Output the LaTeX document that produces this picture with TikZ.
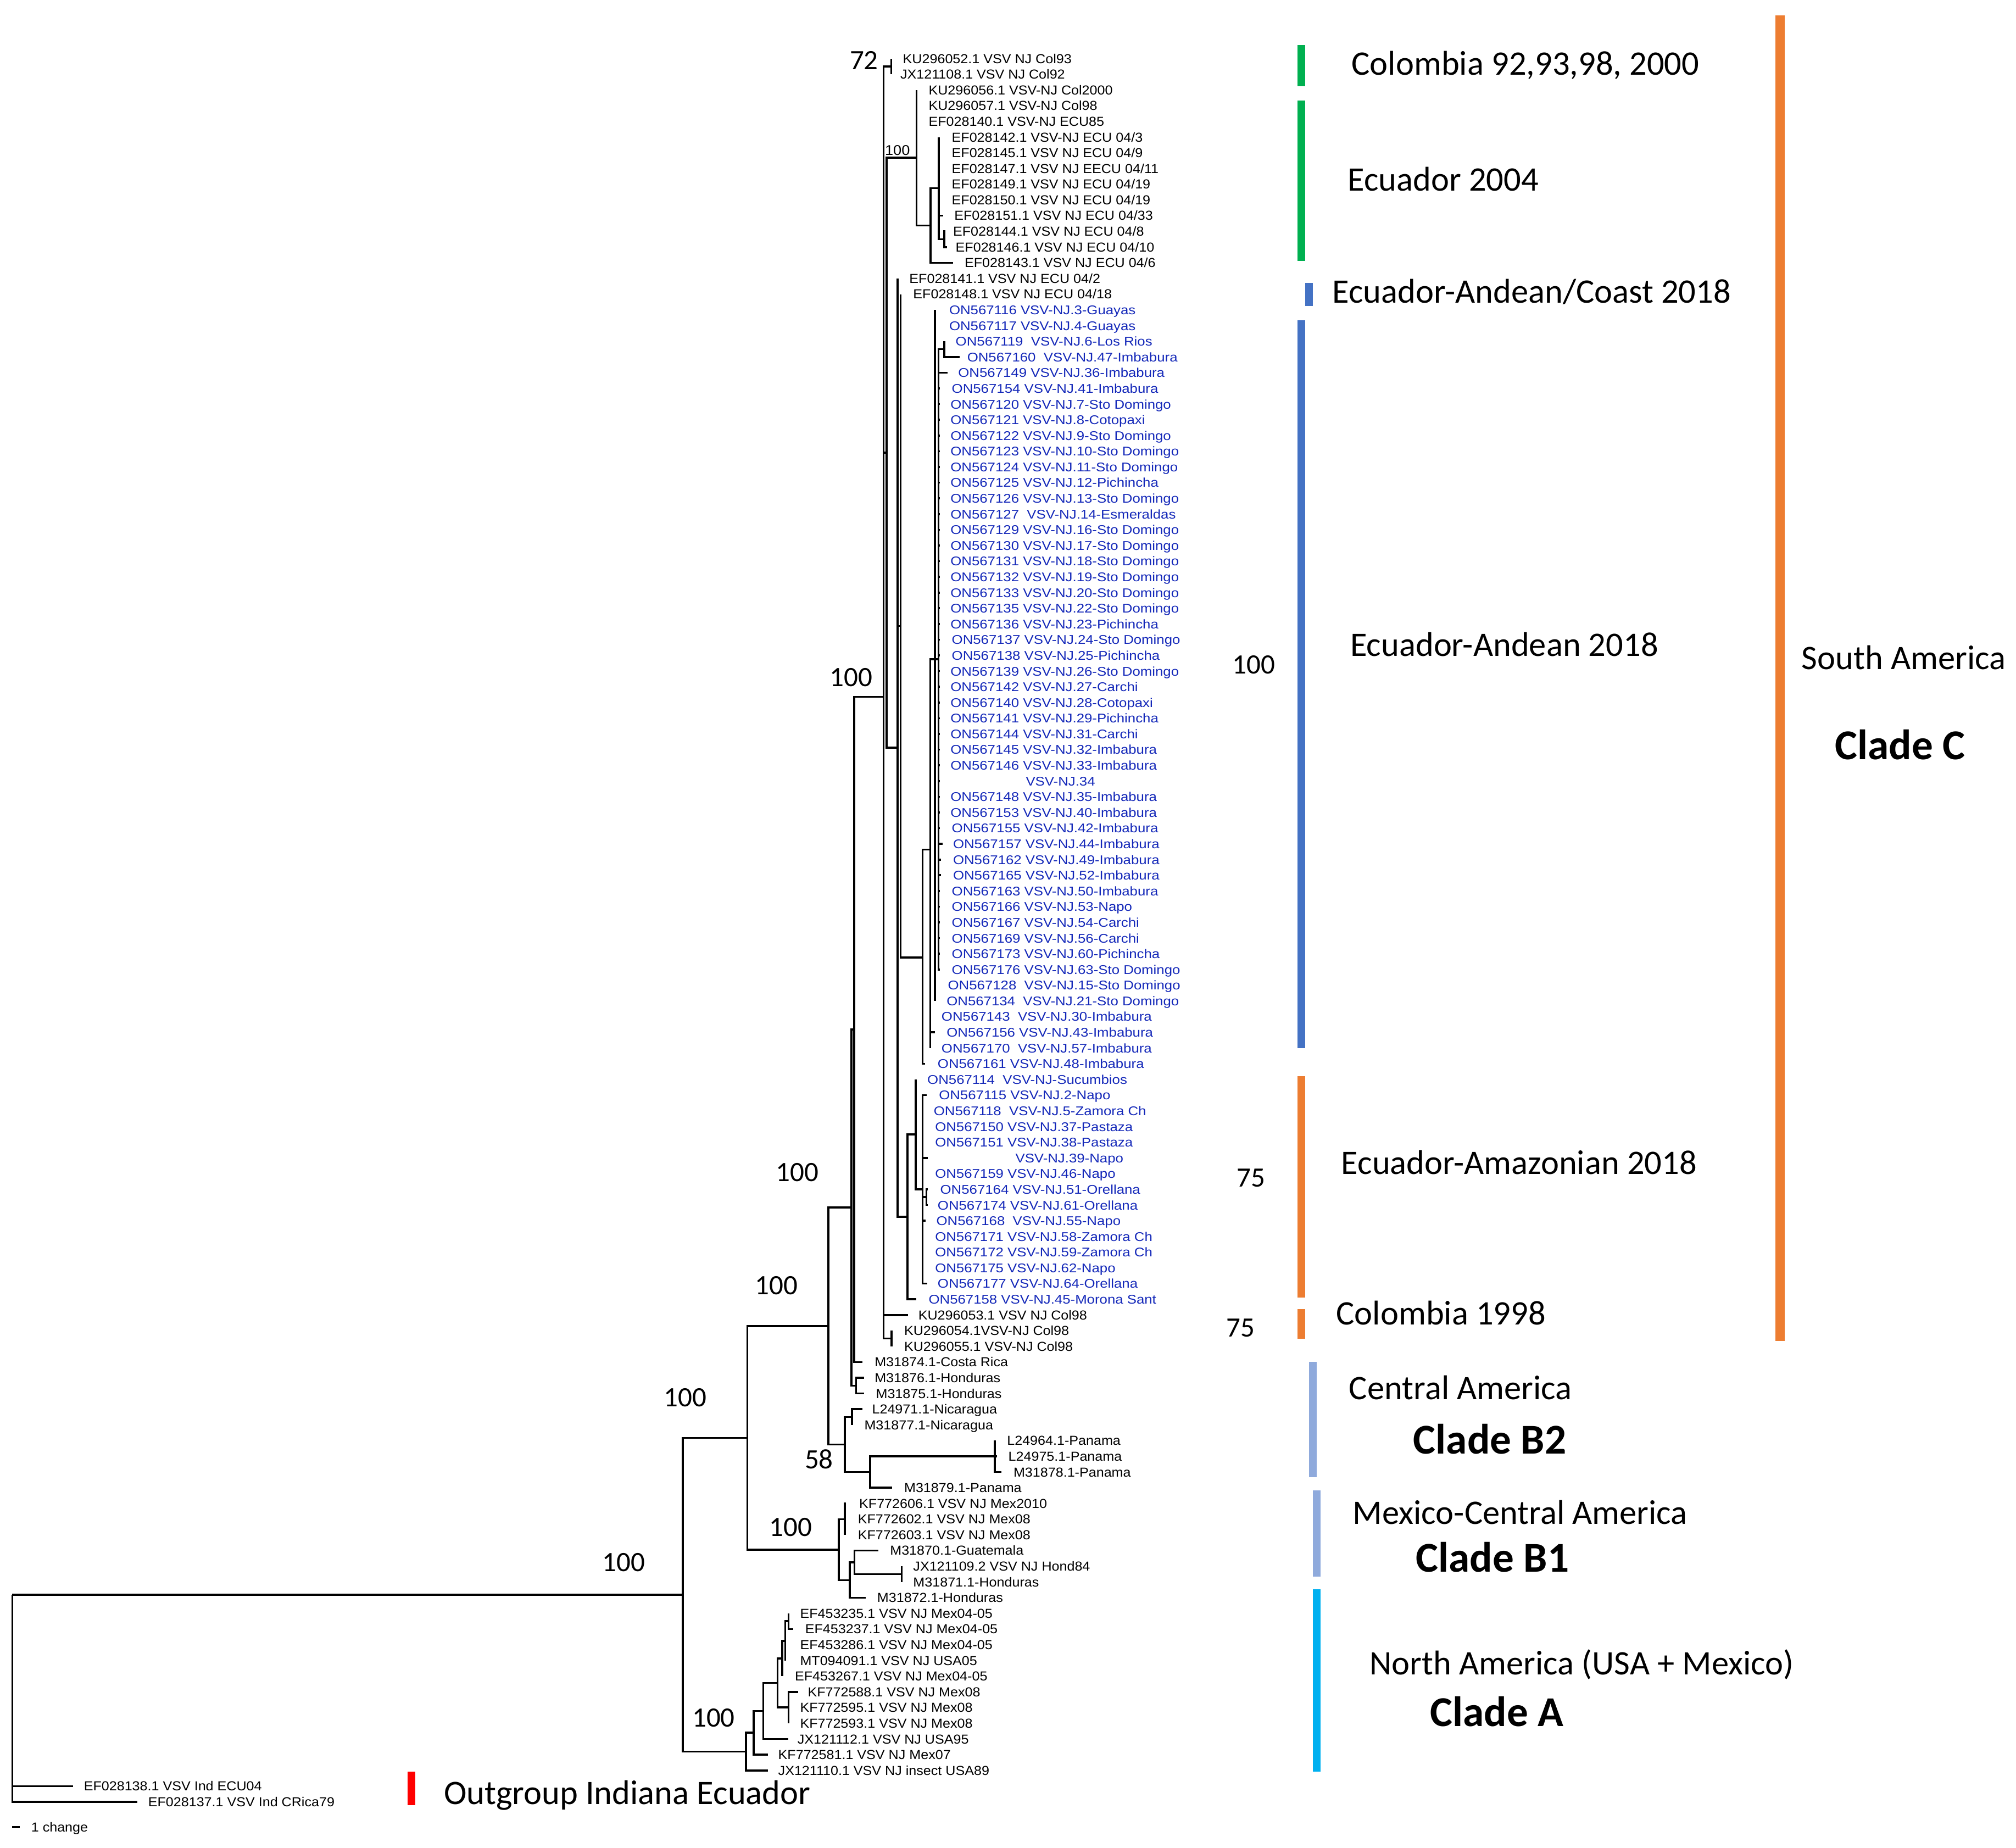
\documentclass[tikz,border=0pt]{standalone}
\usepackage{fontspec}
\setmainfont{Carlito}
\newfontfamily\leaffont[FakeStretch=1.06]{Liberation Sans}
\newfontfamily\onfont[FakeStretch=1.12]{Liberation Sans}
\usetikzlibrary{positioning}
\definecolor{onblue}{RGB}{20,40,185}
\definecolor{bargreen}{RGB}{0,176,80}
\definecolor{barblue}{RGB}{68,114,196}
\definecolor{barorange}{RGB}{237,125,49}
\definecolor{barlight}{RGB}{143,170,220}
\definecolor{barcyan}{RGB}{0,176,240}
\tikzset{
  branch/.style = {line width=1.1pt},
  leaflabel/.style = {anchor=west, inner sep=0pt, text height=5.1pt, text depth=0pt,
    font=\leaffont\fontsize{7.2}{8}\selectfont},
  onlabel/.style = {leaflabel, text=onblue, font=\onfont\fontsize{7}{8}\selectfont},
  boot/.style = {inner sep=0pt, font=\fontsize{15.5}{16}\selectfont},
  region/.style = {anchor=west, inner sep=0pt, text height=12pt, text depth=0pt,
    font=\fontsize{19}{20}\selectfont},
  cladename/.style = {anchor=west, inner sep=0pt, text height=15pt, text depth=0pt,
    font=\bfseries\fontsize{23.5}{24}\selectfont},
}
% one tip: coordinate t<k> and its label l<k>
\newcommand\leaf[5][leaflabel]{%
  \coordinate (t#2) at (#3,{row(#2)});
  \node[#1] (l#2) at (#4,{row(#2)}) {#5};}

\begin{document}
\begin{tikzpicture}[x=0.25mm, y=-0.25mm,
  declare function={row(\k)=45.6+12.214*(\k-1);}]
\fill[white] (0,0) rectangle (1568,1437);
\useasboundingbox (0,0) rectangle (1568,1437);

% tips and labels
\leaf{1}{693.2}{702}{KU296052.1 VSV NJ Col93}
\leaf{2}{693.2}{700}{JX121108.1 VSV NJ Col92}
\leaf{3}{712.8}{722}{KU296056.1 VSV-NJ Col2000}
\leaf{4}{712.8}{722}{KU296057.1 VSV-NJ Col98}
\leaf{5}{712.8}{722}{EF028140.1 VSV-NJ ECU85}
\leaf{6}{730.2}{740}{EF028142.1 VSV-NJ ECU 04/3}
\leaf{7}{730.2}{740}{EF028145.1 VSV NJ ECU 04/9}
\leaf{8}{730.2}{740}{EF028147.1 VSV NJ EECU 04/11}
\leaf{9}{730.2}{740}{EF028149.1 VSV NJ ECU 04/19}
\leaf{10}{730.2}{740}{EF028150.1 VSV NJ ECU 04/19}
\leaf{11}{733.6}{742}{EF028151.1 VSV NJ ECU 04/33}
\leaf{12}{735.3}{741}{EF028144.1 VSV NJ ECU 04/8}
\leaf{13}{736.5}{743}{EF028146.1 VSV NJ ECU 04/10}
\leaf{14}{741.2}{750}{EF028143.1 VSV NJ ECU 04/6}
\leaf{15}{698.1}{707}{EF028141.1 VSV NJ ECU 04/2}
\leaf{16}{700.4}{710}{EF028148.1 VSV NJ ECU 04/18}
\leaf[onlabel]{17}{727.3}{738}{ON567116 VSV-NJ.3-Guayas}
\leaf[onlabel]{18}{727.3}{738}{ON567117 VSV-NJ.4-Guayas}
\leaf[onlabel]{19}{734.5}{743}{ON567119~ VSV-NJ.6-Los Rios}
\leaf[onlabel]{20}{746.2}{752}{ON567160~ VSV-NJ.47-Imbabura}
\leaf[onlabel]{21}{737}{745}{ON567149 VSV-NJ.36-Imbabura}
\leaf[onlabel]{22}{731}{740}{ON567154 VSV-NJ.41-Imbabura}
\leaf[onlabel]{23}{731}{739}{ON567120 VSV-NJ.7-Sto Domingo}
\leaf[onlabel]{24}{731}{739}{ON567121 VSV-NJ.8-Cotopaxi}
\leaf[onlabel]{25}{731}{739}{ON567122 VSV-NJ.9-Sto Domingo}
\leaf[onlabel]{26}{731}{739}{ON567123 VSV-NJ.10-Sto Domingo}
\leaf[onlabel]{27}{731}{739}{ON567124 VSV-NJ.11-Sto Domingo}
\leaf[onlabel]{28}{731}{739}{ON567125 VSV-NJ.12-Pichincha}
\leaf[onlabel]{29}{731}{739}{ON567126 VSV-NJ.13-Sto Domingo}
\leaf[onlabel]{30}{731}{739}{ON567127~ VSV-NJ.14-Esmeraldas}
\leaf[onlabel]{31}{731}{739}{ON567129 VSV-NJ.16-Sto Domingo}
\leaf[onlabel]{32}{731}{739}{ON567130 VSV-NJ.17-Sto Domingo}
\leaf[onlabel]{33}{731}{739}{ON567131 VSV-NJ.18-Sto Domingo}
\leaf[onlabel]{34}{731}{739}{ON567132 VSV-NJ.19-Sto Domingo}
\leaf[onlabel]{35}{731}{739}{ON567133 VSV-NJ.20-Sto Domingo}
\leaf[onlabel]{36}{731}{739}{ON567135 VSV-NJ.22-Sto Domingo}
\leaf[onlabel]{37}{731}{739}{ON567136 VSV-NJ.23-Pichincha}
\leaf[onlabel]{38}{731}{740}{ON567137 VSV-NJ.24-Sto Domingo}
\leaf[onlabel]{39}{731}{740}{ON567138 VSV-NJ.25-Pichincha}
\leaf[onlabel]{40}{731}{739}{ON567139 VSV-NJ.26-Sto Domingo}
\leaf[onlabel]{41}{731}{739}{ON567142 VSV-NJ.27-Carchi}
\leaf[onlabel]{42}{731}{739}{ON567140 VSV-NJ.28-Cotopaxi}
\leaf[onlabel]{43}{731}{739}{ON567141 VSV-NJ.29-Pichincha}
\leaf[onlabel]{44}{731}{739}{ON567144 VSV-NJ.31-Carchi}
\leaf[onlabel]{45}{731}{739}{ON567145 VSV-NJ.32-Imbabura}
\leaf[onlabel]{46}{731}{739}{ON567146 VSV-NJ.33-Imbabura}
\leaf[onlabel]{47}{731}{797.6}{VSV-NJ.34}
\leaf[onlabel]{48}{731}{739}{ON567148 VSV-NJ.35-Imbabura}
\leaf[onlabel]{49}{731}{739}{ON567153 VSV-NJ.40-Imbabura}
\leaf[onlabel]{50}{731}{740}{ON567155 VSV-NJ.42-Imbabura}
\leaf[onlabel]{51}{733}{741}{ON567157 VSV-NJ.44-Imbabura}
\leaf[onlabel]{52}{732}{741}{ON567162 VSV-NJ.49-Imbabura}
\leaf[onlabel]{53}{732}{741}{ON567165 VSV-NJ.52-Imbabura}
\leaf[onlabel]{54}{731}{740}{ON567163 VSV-NJ.50-Imbabura}
\leaf[onlabel]{55}{731}{740}{ON567166 VSV-NJ.53-Napo}
\leaf[onlabel]{56}{731}{740}{ON567167 VSV-NJ.54-Carchi}
\leaf[onlabel]{57}{731}{740}{ON567169 VSV-NJ.56-Carchi}
\leaf[onlabel]{58}{731}{740}{ON567173 VSV-NJ.60-Pichincha}
\leaf[onlabel]{59}{731}{740}{ON567176 VSV-NJ.63-Sto Domingo}
\leaf[onlabel]{60}{728}{737}{ON567128~ VSV-NJ.15-Sto Domingo}
\leaf[onlabel]{61}{727.3}{736}{ON567134~ VSV-NJ.21-Sto Domingo}
\leaf[onlabel]{62}{723.5}{732}{ON567143~ VSV-NJ.30-Imbabura}
\leaf[onlabel]{63}{727}{736}{ON567156 VSV-NJ.43-Imbabura}
\leaf[onlabel]{64}{723.5}{732}{ON567170~ VSV-NJ.57-Imbabura}
\leaf[onlabel]{65}{719.6}{729}{ON567161 VSV-NJ.48-Imbabura}
\leaf[onlabel]{66}{712.1}{721}{ON567114~ VSV-NJ-Sucumbios}
\leaf[onlabel]{67}{720.6}{730}{ON567115 VSV-NJ.2-Napo}
\leaf[onlabel]{68}{717.5}{726}{ON567118~ VSV-NJ.5-Zamora Ch}
\leaf[onlabel]{69}{717.5}{727}{ON567150 VSV-NJ.37-Pastaza}
\leaf[onlabel]{70}{717.5}{727}{ON567151 VSV-NJ.38-Pastaza}
\leaf[onlabel]{71}{721.6}{789.5}{VSV-NJ.39-Napo}
\leaf[onlabel]{72}{717.5}{727}{ON567159 VSV-NJ.46-Napo}
\leaf[onlabel]{73}{721.5}{731}{ON567164 VSV-NJ.51-Orellana}
\leaf[onlabel]{74}{721.5}{729}{ON567174 VSV-NJ.61-Orellana}
\leaf[onlabel]{75}{720}{728}{ON567168~ VSV-NJ.55-Napo}
\leaf[onlabel]{76}{717.5}{727}{ON567171 VSV-NJ.58-Zamora Ch}
\leaf[onlabel]{77}{717.5}{727}{ON567172 VSV-NJ.59-Zamora Ch}
\leaf[onlabel]{78}{717.5}{727}{ON567175 VSV-NJ.62-Napo}
\leaf[onlabel]{79}{721}{729}{ON567177 VSV-NJ.64-Orellana}
\leaf[onlabel]{80}{712.8}{722}{ON567158 VSV-NJ.45-Morona Sant}
\leaf{81}{706.4}{714}{KU296053.1 VSV NJ Col98}
\leaf{82}{693.3}{703}{KU296054.1VSV-NJ Col98}
\leaf{83}{693.3}{703}{KU296055.1 VSV-NJ Col98}
\leaf{84}{670.7}{680}{M31874.1-Costa Rica}
\leaf{85}{671.9}{680}{M31876.1-Honduras}
\leaf{86}{671.9}{681}{M31875.1-Honduras}
\leaf{87}{670.7}{678}{L24971.1-Nicaragua}
\leaf{88}{662.6}{672}{M31877.1-Nicaragua}
\leaf{89}{773.7}{783}{L24964.1-Panama}
\leaf{90}{775.5}{784}{L24975.1-Panama}
\leaf{91}{779}{788}{M31878.1-Panama}
\leaf{92}{694}{703}{M31879.1-Panama}
\leaf{93}{658}{668}{KF772606.1 VSV NJ Mex2010}
\leaf{94}{657.2}{667}{KF772602.1 VSV NJ Mex08}
\leaf{95}{657.2}{667}{KF772603.1 VSV NJ Mex08}
\leaf{96}{683}{692}{M31870.1-Guatemala}
\leaf{97}{701.4}{710}{JX121109.2 VSV NJ Hond84}
\leaf{98}{701.4}{710}{M31871.1-Honduras}
\leaf{99}{673.2}{682}{M31872.1-Honduras}
\leaf{100}{613.3}{622}{EF453235.1 VSV NJ Mex04-05}
\leaf{101}{617}{626}{EF453237.1 VSV NJ Mex04-05}
\leaf{102}{610.8}{622}{EF453286.1 VSV NJ Mex04-05}
\leaf{103}{610.8}{622}{MT094091.1 VSV NJ USA05}
\leaf{104}{608.3}{618}{EF453267.1 VSV NJ Mex04-05}
\leaf{105}{620.6}{628}{KF772588.1 VSV NJ Mex08}
\leaf{106}{613.3}{622}{KF772595.1 VSV NJ Mex08}
\leaf{107}{613.3}{622}{KF772593.1 VSV NJ Mex08}
\leaf{108}{613.3}{620}{JX121112.1 VSV NJ USA95}
\leaf{109}{597.3}{605}{KF772581.1 VSV NJ Mex07}
\leaf{110}{597.3}{605}{JX121110.1 VSV NJ insect USA89}
\leaf{111}{56.7}{65}{EF028138.1 VSV Ind ECU04}
\leaf{112}{106.8}{115}{EF028137.1 VSV Ind CRica79}

% inner nodes
\coordinate (root) at (9.6,1240.3);
\coordinate (n531) at (531.1,1240.3);
\coordinate (n581) at (581.2,1118.3);
\coordinate (n644) at (644.4,1031.3);
\coordinate (n662) at (662.2,939.2);
\coordinate (n664) at (664.4,800.7);
\coordinate (nA) at (687.2,541.9);
\coordinate (n72) at (693.2,51.7);
\coordinate (nB) at (689.5,352.1);
\coordinate (n100s) at (712.8,122.7);
\coordinate (n04) at (723.7,175.4);
\coordinate (n04b) at (730.2,146.4);
\coordinate (n0408) at (734.5,186.1);
\coordinate (n698) at (698.1,581.5);
\coordinate (n700) at (700.4,486.8);
\coordinate (n717b) at (717.5,744.8);
\coordinate (n723) at (723.5,660.8);
\coordinate (n727) at (727.3,512.7);
\coordinate (n730) at (729.9,512.8);
\coordinate (n734) at (734.5,271.6);
\coordinate (n705) at (705.7,946.3);
\coordinate (n712) at (712.1,882.2);
\coordinate (n717) at (717.5,924.9);
\coordinate (nOre) at (720.5,931.1);
\coordinate (n693) at (693.3,1041);
\coordinate (n666) at (665.8,1077.7);
\coordinate (n657) at (657.2,1123.5);
\coordinate (nNic) at (662.6,1102.1);
\coordinate (n677) at (676.8,1144.8);
\coordinate (nPan) at (773.7,1132.6);
\coordinate (n652) at (652.5,1205.2);
\coordinate (n657b) at (657.2,1181.5);
\coordinate (n660) at (660.9,1228.9);
\coordinate (n664b) at (664.6,1215.1);
\coordinate (n701) at (701.4,1224.3);
\coordinate (n580) at (580.1,1362.2);
\coordinate (n586) at (586.3,1347.6);
\coordinate (n594) at (593.6,1330.6);
\coordinate (n604) at (604.7,1308.9);
\coordinate (n608) at (608.3,1289.8);
\coordinate (n611) at (610.8,1276.1);
\coordinate (n613c) at (613.3,1260.9);
\coordinate (n613) at (613.3,1327.9);

% branches
\foreach \c in {n531,t111,t112} \draw[branch] (root) |- (\c);
\foreach \c in {n581,n580} \draw[branch] (n531) |- (\c);
\foreach \c in {n644,n652} \draw[branch] (n581) |- (\c);
\foreach \c in {n662,n657} \draw[branch] (n644) |- (\c);
\foreach \c in {n664,n666} \draw[branch] (n662) |- (\c);
\foreach \c in {nA,t84} \draw[branch] (n664) |- (\c);
\foreach \c in {n72,nB,t81,n693} \draw[branch] (nA) |- (\c);
\foreach \c in {t1,t2} \draw[branch] (n72) |- (\c);
\foreach \c in {n100s,n698} \draw[branch] (nB) |- (\c);
\foreach \c in {t3,t4,t5,n04} \draw[branch] (n100s) |- (\c);
\foreach \c in {n04b,t14} \draw[branch] (n04) |- (\c);
\foreach \c in {t6,t7,t8,t9,t10,t11,n0408} \draw[branch] (n04b) |- (\c);
\foreach \c in {t12,t13} \draw[branch] (n0408) |- (\c);
\foreach \c in {t15,n700,n705} \draw[branch] (n698) |- (\c);
\foreach \c in {t16,n717b} \draw[branch] (n700) |- (\c);
\foreach \c in {n723,t65} \draw[branch] (n717b) |- (\c);
\foreach \c in {n727,t62,t63,t64} \draw[branch] (n723) |- (\c);
\foreach \c in {t17,t18,n730,t60,t61} \draw[branch] (n727) |- (\c);
\draw[branch] (n730) |- (n734);
\foreach \k in {21,...,59} \draw[branch] (n730) |- (t\k);
\foreach \c in {t19,t20} \draw[branch] (n734) |- (\c);
\foreach \c in {n712,t80} \draw[branch] (n705) |- (\c);
\foreach \c in {t66,n717} \draw[branch] (n712) |- (\c);
\foreach \c in {t67,t68,t69,t70,t71,t72,nOre,t75,t76,t77,t78,t79} \draw[branch] (n717) |- (\c);
\foreach \c in {t73,t74} \draw[branch] (nOre) |- (\c);
\foreach \c in {t82,t83} \draw[branch] (n693) |- (\c);
\foreach \c in {t85,t86} \draw[branch] (n666) |- (\c);
\foreach \c in {nNic,n677} \draw[branch] (n657) |- (\c);
\foreach \c in {t87,t88} \draw[branch] (nNic) |- (\c);
\foreach \c in {nPan,t92} \draw[branch] (n677) |- (\c);
\foreach \c in {t89,t90,t91} \draw[branch] (nPan) |- (\c);
\foreach \c in {n657b,n660} \draw[branch] (n652) |- (\c);
\foreach \c in {t93,t94,t95} \draw[branch] (n657b) |- (\c);
\foreach \c in {n664b,t99} \draw[branch] (n660) |- (\c);
\foreach \c in {t96,n701} \draw[branch] (n664b) |- (\c);
\foreach \c in {t97,t98} \draw[branch] (n701) |- (\c);
\foreach \c in {n586,t110} \draw[branch] (n580) |- (\c);
\foreach \c in {n594,t109} \draw[branch] (n586) |- (\c);
\foreach \c in {n604,t108} \draw[branch] (n594) |- (\c);
\foreach \c in {n608,n613} \draw[branch] (n604) |- (\c);
\foreach \c in {n611,t104} \draw[branch] (n608) |- (\c);
\foreach \c in {n613c,t102,t103} \draw[branch] (n611) |- (\c);
\foreach \c in {t100,t101} \draw[branch] (n613c) |- (\c);
\foreach \c in {t105,t106,t107} \draw[branch] (n613) |- (\c);

% bootstrap values
\node[boot] (b72) at (672,47) {72};
\node[inner sep=0pt, font=\leaffont\fontsize{7.8}{8}\selectfont] (b100s) at (698,117) {100};
\node[boot] (bSA) at (662,527) {100};
\node[boot] (b662) at (620,912) {100};
\node[boot] (b644) at (604,1000) {100};
\node[boot] (b581) at (533,1087) {100};
\node[boot] (b58) at (637,1135) {58};
\node[boot] (b652) at (615,1188) {100};
\node[boot] (b531) at (485,1215) {100};
\node[boot] (b580) at (555,1336) {100};
\node[boot] (bAnd) at (975,517) {100};
\node[boot] (bAma) at (973,916) {75};
\node[boot] (bCol) at (965,1033) {75};

% scale bar
\coordinate (s0) at (9.6,1421);
\coordinate (s1) at (15.2,1421);
\draw[branch] (s0) -- (s1);
\node[leaflabel] (scale) at (24,1421) {1 change};

% group bars
\fill[bargreen] (1009,35) rectangle (1015,67);
\fill[bargreen] (1009,78) rectangle (1015,203);
\fill[barblue] (1015,220) rectangle (1021,238);
\fill[barblue] (1009,249) rectangle (1015,815);
\fill[barorange] (1009,837) rectangle (1015,1009);
\fill[barorange] (1009,1018) rectangle (1015,1041);
\fill[barorange] (1381,12) rectangle (1388,1043);
\fill[barlight] (1018,1059) rectangle (1024,1149);
\fill[barlight] (1021,1159) rectangle (1027,1226);
\fill[barcyan] (1021,1236) rectangle (1027,1378);
\fill[red] (317,1378) rectangle (323,1404);

% group names
\node[region] (gCol) at (1051,50) {Colombia 92,93,98, 2000};
\node[region] (gEcu) at (1048,140) {Ecuador 2004};
\node[region] (gCoast) at (1036,227) {Ecuador-Andean/Coast 2018};
\node[region] (gAnd) at (1050,502) {Ecuador-Andean 2018};
\node[region] (gAma) at (1043,905) {Ecuador-Amazonian 2018};
\node[region] (gCol98) at (1039,1022) {Colombia 1998};
\node[region] (gSA) at (1401,512) {South America};
\node[cladename] (cC) at (1427,580) {Clade C};
\node[region] (gCA) at (1049,1080) {Central America};
\node[cladename] (cB2) at (1099,1120) {Clade B2};
\node[region] (gMCA) at (1052,1177) {Mexico-Central America};
\node[cladename] (cB1) at (1101,1212) {Clade B1};
\node[region] (gNA) at (1065,1294) {North America (USA + Mexico)};
\node[cladename] (cA) at (1112,1332) {Clade A};
\node[region] (gOut) at (345,1395) {Outgroup Indiana Ecuador};
\end{tikzpicture}
\end{document}
